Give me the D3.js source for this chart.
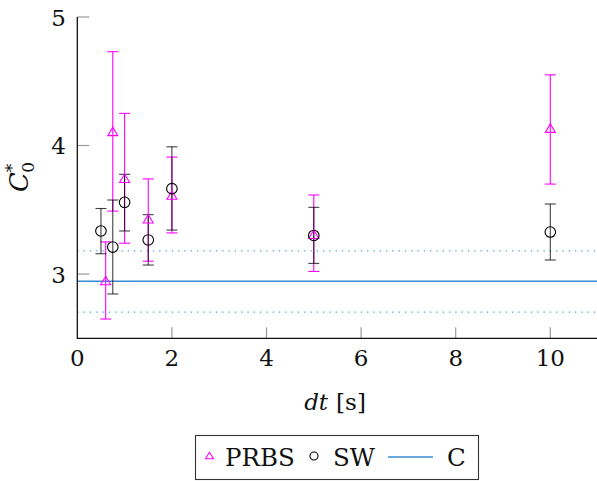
<!DOCTYPE html>
<html>
<head>
<meta charset="utf-8">
<script src="https://cdn.jsdelivr.net/npm/d3@7"></script>
<style>
  html, body { margin: 0; padding: 0; background: #fff; }
  svg { display: block; }
</style>
</head>
<body>
<svg id="chart" width="597" height="481"></svg>
<script>
// PRBS measurements: time step, estimate, lower and upper error bound
const prbsDt    = [0.6, 0.75, 1.0, 1.5, 2.0, 5.0, 10.0];
const prbsValue = [2.95, 4.11, 3.745, 3.43, 3.615, 3.31, 4.135];
const prbsLow   = [2.65, 3.49, 3.24, 3.10, 3.32, 3.02, 3.70];
const prbsHigh  = [3.25, 4.73, 4.25, 3.74, 3.91, 3.615, 4.55];

// SW measurements
const swDt    = [0.5, 0.75, 1.0, 1.5, 2.0, 5.0, 10.0];
const swValue = [3.335, 3.21, 3.558, 3.265, 3.664, 3.30, 3.327];
const swLow   = [3.158, 2.845, 3.335, 3.07, 3.342, 3.083, 3.109];
const swHigh  = [3.51, 3.576, 3.776, 3.462, 3.99, 3.519, 3.545];

// Reference constant C with its band
const cValue = 2.943;
const cLow   = 2.704;
const cHigh  = 3.181;

const xTicks = [0, 2, 4, 6, 8, 10];
const yTicks = [3, 4, 5];
const legendLabels = ["PRBS", "SW", "C"];

const serif = "'DejaVu Serif', 'Liberation Serif', 'Times New Roman', serif";

const svg = d3.select("#chart");
const x = d3.scaleLinear().domain([0, 11]).range([77.3, 597.6]);
const y = d3.scaleLinear().domain([2.5, 5]).range([338.3, 17]);

const magenta = "#ff00ff";
const lineBlue = "#3a8ad4";
const dotBlue = "#45a2e2";

function label(sel) {
  return sel.attr("font-family", serif).attr("fill", "#111");
}

// Tick marks (inside the plot, grey)
const g = svg.append("g");
g.selectAll("line.xt").data(xTicks.filter(d => d > 0)).join("line")
  .attr("x1", d => x(d)).attr("x2", d => x(d))
  .attr("y1", y(2.5)).attr("y2", y(2.5) - 11)
  .attr("stroke", "#999").attr("stroke-width", 1.2);
g.selectAll("line.yt").data(yTicks).join("line")
  .attr("x1", x(0)).attr("x2", x(0) + 12)
  .attr("y1", d => y(d)).attr("y2", d => y(d))
  .attr("stroke", "#999").attr("stroke-width", 1.2);

// Constant and its band
[cLow, cHigh].forEach(v => {
  svg.append("line")
    .attr("x1", x(0)).attr("x2", 597)
    .attr("y1", y(v)).attr("y2", y(v))
    .attr("stroke", dotBlue).attr("stroke-width", 1.3)
    .attr("stroke-dasharray", "1.3,5");
});
svg.append("line")
  .attr("x1", x(0)).attr("x2", 597)
  .attr("y1", y(cValue)).attr("y2", y(cValue))
  .attr("stroke", lineBlue).attr("stroke-width", 1.5);

// Error bars
function errorBars(dts, lo, hi, color, opacity) {
  const grp = svg.append("g").attr("stroke", color).attr("stroke-width", 1.1)
    .attr("stroke-opacity", opacity);
  dts.forEach((d, i) => {
    const cx = x(d);
    grp.append("line").attr("x1", cx).attr("x2", cx).attr("y1", y(lo[i])).attr("y2", y(hi[i]));
    grp.append("line").attr("x1", cx - 5.5).attr("x2", cx + 5.5).attr("y1", y(lo[i])).attr("y2", y(lo[i]));
    grp.append("line").attr("x1", cx - 5.5).attr("x2", cx + 5.5).attr("y1", y(hi[i])).attr("y2", y(hi[i]));
  });
}
errorBars(prbsDt, prbsLow, prbsHigh, magenta, 1);
errorBars(swDt, swLow, swHigh, "#000", 0.75);

// Markers
const tri = (cx, cy, w, h) =>
  `M${cx - w / 2},${cy + h / 2}L${cx + w / 2},${cy + h / 2}L${cx},${cy - h / 2}Z`;
svg.append("g").selectAll("path").data(prbsDt).join("path")
  .attr("d", (d, i) => tri(x(d), y(prbsValue[i]), 10, 8.5))
  .attr("fill", "none").attr("stroke", magenta).attr("stroke-width", 1.1);
svg.append("g").selectAll("circle").data(swDt).join("circle")
  .attr("cx", d => x(d)).attr("cy", (d, i) => y(swValue[i])).attr("r", 5.3)
  .attr("fill", "none").attr("stroke", "#000").attr("stroke-width", 1.1);

// Axis lines (left and bottom only)
svg.append("path")
  .attr("d", `M${x(0)},${y(5)}L${x(0)},${y(2.5)}L597,${y(2.5)}`)
  .attr("fill", "none").attr("stroke", "#111").attr("stroke-width", 1.3);

// Tick labels
label(svg.append("g").selectAll("text").data(xTicks).join("text"))
  .attr("x", d => x(d)).attr("y", 366)
  .attr("text-anchor", "middle").attr("font-size", 23)
  .text(d => d);
label(svg.append("g").selectAll("text").data(yTicks).join("text"))
  .attr("x", 66).attr("y", d => y(d) + 8.5)
  .attr("text-anchor", "end").attr("font-size", 23)
  .text(d => d);

// Axis titles
const xt = label(svg.append("text")).attr("x", 335).attr("y", 410)
  .attr("text-anchor", "middle").attr("font-size", 23);
xt.append("tspan").attr("font-style", "italic").text("dt");
xt.append("tspan").attr("dx", 8).text("[s]");

const yt = label(svg.append("text"))
  .attr("transform", "translate(28,177) rotate(-90)")
  .attr("text-anchor", "middle").attr("font-size", 26);
yt.append("tspan").attr("font-style", "italic").text("C");
yt.append("tspan").attr("font-size", 17).attr("dy", -10).text("*");
yt.append("tspan").attr("font-size", 17).attr("dx", -9).attr("dy", 16).text("0");

// Legend
const lg = svg.append("g");
lg.append("rect").attr("x", 195.5).attr("y", 435.5).attr("width", 283).attr("height", 44)
  .attr("fill", "#fff").attr("stroke", "#333").attr("stroke-width", 1.1);
lg.append("path").attr("d", tri(209.5, 455.5, 8, 6.5))
  .attr("fill", "none").attr("stroke", magenta).attr("stroke-width", 1.1);
label(lg.append("text")).attr("x", 225).attr("y", 466).attr("font-size", 24.5).text(legendLabels[0]);
lg.append("circle").attr("cx", 314).attr("cy", 456).attr("r", 4)
  .attr("fill", "none").attr("stroke", "#000").attr("stroke-width", 1.1);
label(lg.append("text")).attr("x", 333).attr("y", 466).attr("font-size", 24.5).text(legendLabels[1]);
lg.append("line").attr("x1", 388).attr("x2", 433).attr("y1", 457).attr("y2", 457)
  .attr("stroke", lineBlue).attr("stroke-width", 1.4);
label(lg.append("text")).attr("x", 447).attr("y", 466).attr("font-size", 24.5).text(legendLabels[2]);
</script>
</body>
</html>
